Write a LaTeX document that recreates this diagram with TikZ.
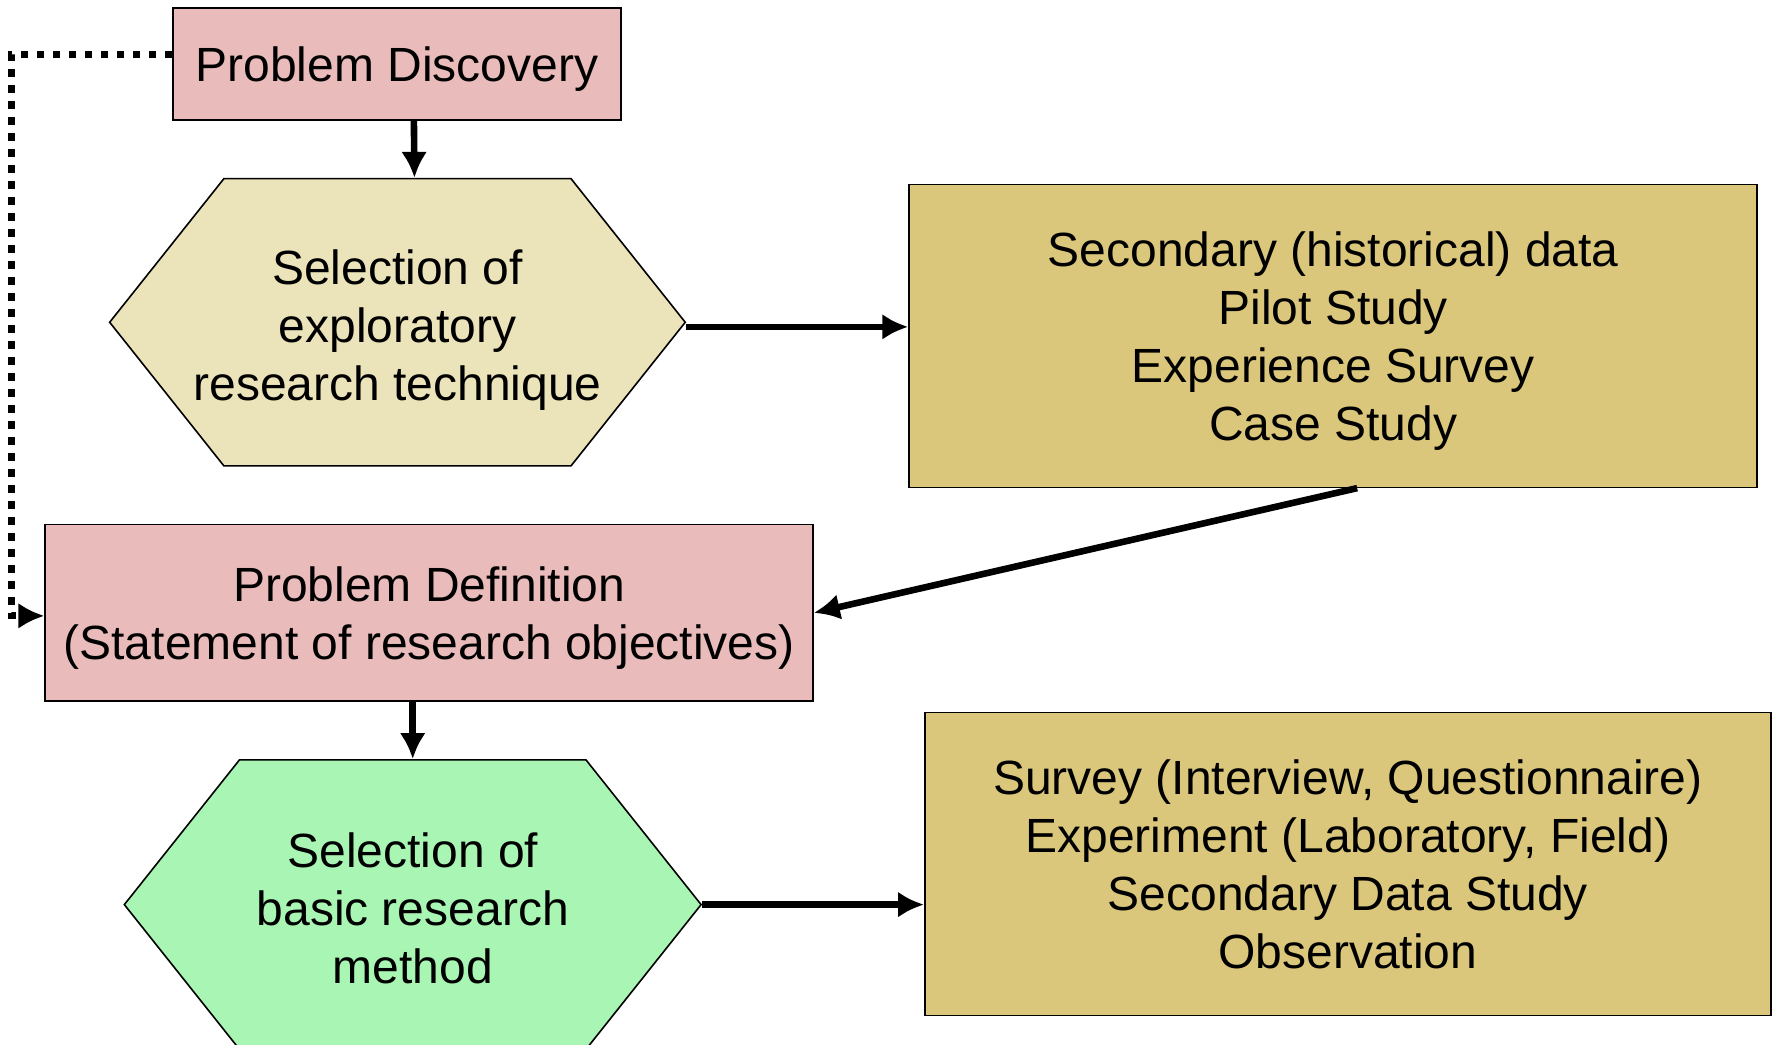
\documentclass[tikz,border=0pt]{standalone}
\usepackage{fontspec}
\setmainfont{Liberation Sans}
\usepackage{tikz}
\usetikzlibrary{arrows.meta,shapes.symbols}
\definecolor{pinkbox}{HTML}{E9BBBA}
\definecolor{sandhex}{HTML}{EBE3B9}
\definecolor{khakibox}{HTML}{DAC77B}
\definecolor{greenhex}{HTML}{A9F5B4}

\begin{document}
\begin{tikzpicture}[x=0.5654pt,y=-0.5654pt]
\tikzset{txt/.style={align=center,font=\fontsize{24}{29}\selectfont,inner sep=0pt},
box/.style={txt,draw,line width=0.8pt,text depth=-1.8pt},
hexa/.style={draw,line width=0.8pt,shape=signal,signal to=east and west,signal from=nowhere,signal pointer angle=103,inner sep=0pt},
flow/.style={line width=3.3pt,-{Latex[length=13pt,width=13pt]}}}
\useasboundingbox (0,0) rectangle (1568,924);

\node[box,fill=pinkbox,minimum width=223.9pt,minimum height=56pt,text depth=-3pt] (discovery) at (351,56.5) {Problem Discovery};
\node[hexa,fill=sandhex,minimum width=287.8pt,minimum height=143.6pt] (explore) at (351.5,285) {};
\node[txt] (exploretext) at ([yshift=-4pt]explore.center) {Selection of\\exploratory\\research technique};
\node[box,fill=khakibox,minimum width=424.1pt,minimum height=151.5pt,text depth=-3pt] (techniques) at (1179,297) {Secondary (historical) data\\Pilot Study\\Experience Survey\\Case Study};
\node[box,fill=pinkbox,minimum width=383.9pt,minimum height=88.2pt,text depth=-3.5pt] (definition) at (379.5,542) {Problem Definition\\(Statement of research objectives)};
\node[hexa,fill=greenhex,minimum width=288.4pt,minimum height=144.7pt] (basic) at (365,800) {};
\node[txt] (basictext) at ([yshift=-1.7pt]basic.center) {Selection of\\basic research\\method};
\node[box,fill=khakibox,minimum width=423pt,minimum height=151.5pt,text depth=-6pt] (methods) at (1192,764) {Survey (Interview, Questionnaire)\\Experiment (Laboratory, Field)\\Secondary Data Study\\Observation};

\coordinate (loop) at (10,48);

\draw[flow] ([xshift=8.5pt]discovery.south) -- ([xshift=8.5pt]explore.north);
\draw[flow] ([yshift=-2.3pt]explore.east) -- ([yshift=-2.3pt]explore.east -| techniques.west);
\draw[flow] ([xshift=12pt]techniques.south) -- (definition.east);
\draw[flow] (definition.south -| basic.north) -- (basic.north);
\draw[flow] (basic.east) -- (basic.east -| methods.west);
\draw[line width=3.6pt,dash pattern=on 3.6pt off 4.4pt,-{Latex[length=13pt,width=13pt]}] (discovery.west |- loop) -- (loop) |- ([yshift=-1.5pt]definition.west);

\end{tikzpicture}
\end{document}
